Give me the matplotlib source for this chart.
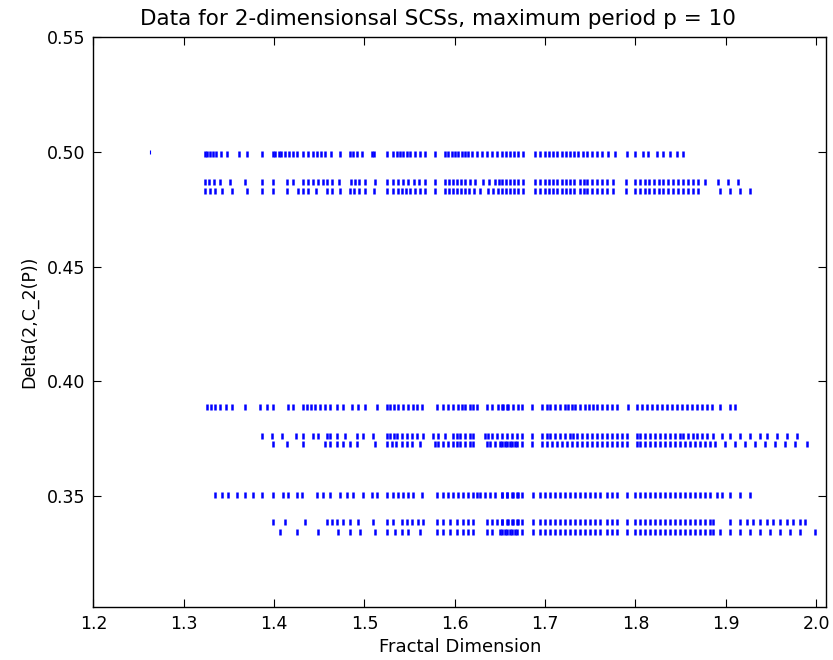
import matplotlib
matplotlib.use("Agg")
import matplotlib.pyplot as plt
from matplotlib.ticker import FormatStrFormatter

# ---- data ----
single_x = [1.263]
single_y = [0.5000]

band_y = [0.4991, 0.4869, 0.4830, 0.3887, 0.3760, 0.3726, 0.3504, 0.3387, 0.3343]

band1_x = [1.3235, 1.3257, 1.3290, 1.3323, 1.3357, 1.3412, 1.3478, 1.3611, 1.3700, 1.3866,
           1.3988, 1.4010, 1.4054, 1.4076, 1.4121, 1.4165, 1.4209, 1.4253, 1.4320, 1.4375,
           1.4431, 1.4475, 1.4519, 1.4563, 1.4630, 1.4729, 1.4840, 1.4873, 1.4918, 1.4973,
           1.5084, 1.5106, 1.5250, 1.5316, 1.5361, 1.5394, 1.5427, 1.5471, 1.5505, 1.5560,
           1.5615, 1.5671, 1.5782, 1.5892, 1.5926, 1.5970, 1.6003, 1.6036, 1.6081, 1.6114,
           1.6147, 1.6191, 1.6247, 1.6302, 1.6357, 1.6413, 1.6468, 1.6524, 1.6568, 1.6612,
           1.6656, 1.6701, 1.6756, 1.6889, 1.6944, 1.7000, 1.7044, 1.7088, 1.7132, 1.7188,
           1.7232, 1.7276, 1.7321, 1.7365, 1.7420, 1.7465, 1.7520, 1.7575, 1.7631, 1.7697,
           1.7775, 1.7908, 1.7996, 1.8085, 1.8140, 1.8240, 1.8306, 1.8384, 1.8461, 1.8528]

band2_x = [1.3235, 1.3279, 1.3334, 1.3401, 1.3512, 1.3678, 1.3866, 1.3988, 1.4143, 1.4209,
           1.4320, 1.4375, 1.4431, 1.4486, 1.4541, 1.4586, 1.4641, 1.4718, 1.4851, 1.4896,
           1.4940, 1.5006, 1.5117, 1.5250, 1.5316, 1.5372, 1.5427, 1.5482, 1.5549, 1.5604,
           1.5671, 1.5782, 1.5892, 1.5937, 1.5981, 1.6025, 1.6070, 1.6114, 1.6169, 1.6225,
           1.6313, 1.6380, 1.6446, 1.6490, 1.6524, 1.6568, 1.6612, 1.6656, 1.6701, 1.6756,
           1.6889, 1.6944, 1.7000, 1.7044, 1.7088, 1.7132, 1.7188, 1.7232, 1.7276, 1.7321,
           1.7387, 1.7431, 1.7465, 1.7520, 1.7575, 1.7631, 1.7686, 1.7752, 1.7897, 1.7996,
           1.8052, 1.8107, 1.8151, 1.8207, 1.8262, 1.8306, 1.8362, 1.8417, 1.8472, 1.8528,
           1.8583, 1.8638, 1.8694, 1.8771, 1.8915, 1.9025, 1.9136]

band3_x = [1.3235, 1.3290, 1.3345, 1.3423, 1.3534, 1.3700, 1.3866, 1.3988, 1.4143, 1.4264,
           1.4320, 1.4375, 1.4464, 1.4586, 1.4641, 1.4729, 1.4840, 1.4884, 1.4940, 1.5006,
           1.5106, 1.5250, 1.5316, 1.5372, 1.5416, 1.5460, 1.5505, 1.5560, 1.5615, 1.5671,
           1.5782, 1.5892, 1.5937, 1.5981, 1.6025, 1.6070, 1.6114, 1.6158, 1.6213, 1.6280,
           1.6368, 1.6424, 1.6479, 1.6524, 1.6568, 1.6612, 1.6656, 1.6701, 1.6756, 1.6889,
           1.6944, 1.7000, 1.7044, 1.7088, 1.7132, 1.7188, 1.7232, 1.7276, 1.7321, 1.7387,
           1.7431, 1.7465, 1.7520, 1.7575, 1.7631, 1.7686, 1.7752, 1.7897, 1.7996, 1.8052,
           1.8107, 1.8151, 1.8207, 1.8262, 1.8306, 1.8362, 1.8417, 1.8472, 1.8528, 1.8583,
           1.8638, 1.8694, 1.8937, 1.9048, 1.9158, 1.9269]

band4_x = [1.3257, 1.3301, 1.3345, 1.3401, 1.3467, 1.3534, 1.3678, 1.3844, 1.3921, 1.3988,
           1.4154, 1.4209, 1.4320, 1.4364, 1.4409, 1.4453, 1.4508, 1.4563, 1.4619, 1.4696,
           1.4763, 1.4862, 1.4929, 1.5006, 1.5139, 1.5250, 1.5283, 1.5327, 1.5372, 1.5427,
           1.5482, 1.5538, 1.5582, 1.5638, 1.5804, 1.5870, 1.5926, 1.5981, 1.6036, 1.6081,
           1.6114, 1.6169, 1.6202, 1.6247, 1.6357, 1.6413, 1.6479, 1.6534, 1.6590, 1.6645,
           1.6701, 1.6524, 1.6579, 1.6745, 1.6856, 1.6966, 1.7022, 1.7055, 1.7110, 1.7166,
           1.7221, 1.7254, 1.7299, 1.7332, 1.7387, 1.7443, 1.7487, 1.7531, 1.7575, 1.7631,
           1.7686, 1.7741, 1.7797, 1.7919, 1.8019, 1.8074, 1.8129, 1.8185, 1.8240, 1.8295,
           1.8351, 1.8406, 1.8461, 1.8517, 1.8572, 1.8627, 1.8683, 1.8738, 1.8793, 1.8849,
           1.8937, 1.9048, 1.9103]

band5_x = [1.3866, 1.3977, 1.4087, 1.4242, 1.4320, 1.4431, 1.4486, 1.4586, 1.4619, 1.4696,
           1.4785, 1.4918, 1.4984, 1.5095, 1.5250, 1.5283, 1.5327, 1.5361, 1.5416, 1.5471,
           1.5527, 1.5582, 1.5649, 1.5759, 1.5815, 1.5892, 1.5981, 1.6025, 1.6059, 1.6114,
           1.6169, 1.6202, 1.6335, 1.6368, 1.6413, 1.6468, 1.6524, 1.6579, 1.6634, 1.6690,
           1.6745, 1.6856, 1.6966, 1.7022, 1.7055, 1.7110, 1.7166, 1.7221, 1.7276, 1.7310,
           1.7354, 1.7409, 1.7465, 1.7520, 1.7575, 1.7631, 1.7686, 1.7741, 1.7797, 1.7852,
           1.7908, 1.8019, 1.8052, 1.8107, 1.8162, 1.8218, 1.8273, 1.8328, 1.8384, 1.8439,
           1.8494, 1.8528, 1.8583, 1.8638, 1.8683, 1.8738, 1.8793, 1.8860, 1.8959, 1.9048,
           1.9158, 1.9269, 1.9380, 1.9457, 1.9568, 1.9678, 1.9789]

band6_x = [1.3988, 1.4143, 1.4320, 1.4563, 1.4619, 1.4696, 1.4763, 1.4840, 1.4918, 1.5117,
           1.5250, 1.5305, 1.5349, 1.5416, 1.5471, 1.5527, 1.5615, 1.5782, 1.5815, 1.5870,
           1.5926, 1.5981, 1.6025, 1.6059, 1.6114, 1.6169, 1.6202, 1.6357, 1.6391, 1.6446,
           1.6501, 1.6557, 1.6612, 1.6668, 1.6524, 1.6579, 1.6634, 1.6690, 1.6745, 1.6856,
           1.6966, 1.7022, 1.7077, 1.7132, 1.7188, 1.7243, 1.7299, 1.7354, 1.7409, 1.7465,
           1.7520, 1.7575, 1.7631, 1.7686, 1.7741, 1.7797, 1.7852, 1.7908, 1.8019, 1.8052,
           1.8107, 1.8162, 1.8218, 1.8273, 1.8328, 1.8384, 1.8439, 1.8494, 1.8550, 1.8605,
           1.8660, 1.8716, 1.8771, 1.8826, 1.8882, 1.8992, 1.9103, 1.9213, 1.9324, 1.9435,
           1.9546, 1.9656, 1.9767, 1.9901]

band7_x = [1.3345, 1.3423, 1.3489, 1.3589, 1.3678, 1.3766, 1.3866, 1.3988, 1.4098, 1.4154,
           1.4253, 1.4309, 1.4475, 1.4541, 1.4619, 1.4729, 1.4807, 1.4873, 1.4984, 1.5084,
           1.5139, 1.5250, 1.5316, 1.5372, 1.5427, 1.5482, 1.5538, 1.5638, 1.5804, 1.5870,
           1.5926, 1.5981, 1.6036, 1.6092, 1.6147, 1.6202, 1.6247, 1.6280, 1.6335, 1.6391,
           1.6446, 1.6524, 1.6579, 1.6645, 1.6701, 1.6524, 1.6579, 1.6634, 1.6690, 1.6745,
           1.6867, 1.6944, 1.7000, 1.7055, 1.7110, 1.7166, 1.7221, 1.7276, 1.7332, 1.7387,
           1.7443, 1.7498, 1.7553, 1.7609, 1.7686, 1.7741, 1.7797, 1.7908, 1.7996, 1.8052,
           1.8107, 1.8162, 1.8218, 1.8273, 1.8328, 1.8384, 1.8439, 1.8494, 1.8550, 1.8605,
           1.8660, 1.8716, 1.8771, 1.8826, 1.8904, 1.8959, 1.9048, 1.9158, 1.9269]

band8_x = [1.3988, 1.4121, 1.4342, 1.4586, 1.4641, 1.4696, 1.4763, 1.4840, 1.4929, 1.5095,
           1.5250, 1.5316, 1.5416, 1.5471, 1.5527, 1.5593, 1.5649, 1.5804, 1.5870, 1.5948,
           1.6025, 1.6092, 1.6147, 1.6202, 1.6357, 1.6413, 1.6468, 1.6524, 1.6590, 1.6645,
           1.6701, 1.6524, 1.6579, 1.6634, 1.6690, 1.6745, 1.6867, 1.6944, 1.7000, 1.7055,
           1.7110, 1.7166, 1.7221, 1.7276, 1.7332, 1.7387, 1.7443, 1.7498, 1.7553, 1.7609,
           1.7686, 1.7741, 1.7797, 1.7908, 1.7996, 1.8052, 1.8107, 1.8162, 1.8218, 1.8273,
           1.8328, 1.8384, 1.8439, 1.8494, 1.8550, 1.8605, 1.8660, 1.8716, 1.8771, 1.8826,
           1.8860, 1.9048, 1.9158, 1.9236, 1.9302, 1.9380, 1.9457, 1.9523, 1.9601, 1.9678,
           1.9745, 1.9823, 1.9878]

band9_x = [1.4065, 1.4253, 1.4486, 1.4707, 1.4840, 1.4951, 1.5117, 1.5250, 1.5338, 1.5416,
           1.5482, 1.5615, 1.5804, 1.5870, 1.5948, 1.6025, 1.6092, 1.6147, 1.6202, 1.6357,
           1.6413, 1.6501, 1.6557, 1.6612, 1.6668, 1.6524, 1.6579, 1.6634, 1.6690, 1.6745,
           1.6867, 1.6944, 1.7000, 1.7055, 1.7110, 1.7166, 1.7221, 1.7276, 1.7332, 1.7387,
           1.7443, 1.7498, 1.7553, 1.7609, 1.7686, 1.7741, 1.7797, 1.7908, 1.7996, 1.8052,
           1.8107, 1.8162, 1.8218, 1.8273, 1.8328, 1.8384, 1.8439, 1.8494, 1.8550, 1.8605,
           1.8660, 1.8716, 1.8771, 1.8826, 1.8860, 1.8937, 1.9048, 1.9158, 1.9269, 1.9380,
           1.9490, 1.9601, 1.9712, 1.9823, 1.9989]

bands_x = [band1_x, band2_x, band3_x, band4_x, band5_x, band6_x, band7_x, band8_x, band9_x]

title = "Data for 2-dimensionsal SCSs, maximum period p = 10"
xlabel = "Fractal Dimension"
ylabel = "Delta(2,C_2(P))"
xticks = [1.2, 1.3, 1.4, 1.5, 1.6, 1.7, 1.8, 1.9, 2.0]
yticks = [0.35, 0.40, 0.45, 0.50, 0.55]

# ---- figure ----
plt.rcParams['font.family'] = ['DejaVu Sans']
fig = plt.figure(figsize=(8.33, 6.60), dpi=100)
ax = fig.add_axes([0.1122, 0.0803, 0.8794, 0.8637])

for bx, by in zip(bands_x, band_y):
    ax.plot(bx, [by] * len(bx), linestyle='none', marker='|', markersize=4.2,
            markeredgewidth=1.8, color='#0000ff')
ax.plot(single_x, single_y, linestyle='none', marker='|', markersize=2.5,
        markeredgewidth=0.8, color='#0000ff')

ax.set_xlim(1.2, 2.011)
ax.set_ylim(0.3017, 0.55)
ax.set_xticks(xticks)
ax.set_yticks(yticks)
ax.xaxis.set_major_formatter(FormatStrFormatter('%.1f'))
ax.yaxis.set_major_formatter(FormatStrFormatter('%.2f'))
ax.tick_params(direction='in', top=True, right=True, length=6, width=0.8,
               labelsize=12.5, pad=6)
for s in ax.spines.values():
    s.set_linewidth(1.0)

fig.text(0.5258, 0.971, title, fontsize=15.5, ha='center', va='center')
ax.set_xlabel(xlabel, fontsize=13, labelpad=3)
ax.set_ylabel(ylabel, fontsize=12.5, labelpad=6)

fig.savefig("out.png", dpi=100)
